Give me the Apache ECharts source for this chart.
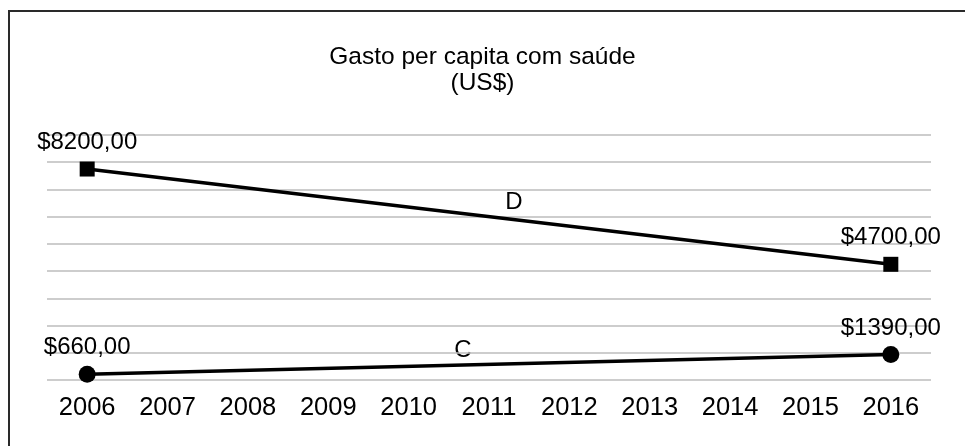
<!DOCTYPE html>
<html>
<head>
<meta charset="utf-8">
<script src="https://cdn.jsdelivr.net/npm/echarts@6/dist/echarts.min.js"></script>
<style>
  html, body { margin: 0; padding: 0; background: #fff; }
  #chart { width: 965px; height: 446px; }
</style>
</head>
<body>
<div id="chart"></div>
<script>
// dados
var anos = ['2006', '2007', '2008', '2009', '2010', '2011', '2012', '2013', '2014', '2015', '2016'];
var serieD = [8200, null, null, null, null, null, null, null, null, null, 4700];
var serieC = [660, null, null, null, null, null, null, null, null, null, 1390];
var gridLinhas = 9; // linhas de grade horizontais (9 intervalos)

var fonte = '"Liberation Sans", Arial, sans-serif';

function rotulo(p) {
    return '$' + p.value + ',00';
}

var myChart = echarts.init(document.getElementById('chart'));
var option = {
    animation: false,
    backgroundColor: '#fff',
    textStyle: { fontFamily: fonte },
    title: {
        text: 'Gasto per capita com saúde\n(US$)',
        left: 'center',
        top: 39,
        textStyle: { fontSize: 24.5, fontWeight: 'normal', color: '#000', lineHeight: 26, fontFamily: fonte }
    },
    grid: { left: 47, right: 34, top: 135, bottom: 66 },
    xAxis: {
        type: 'category',
        data: anos,
        boundaryGap: true,
        axisLine: { show: false },
        axisTick: { show: false },
        axisLabel: { color: '#000', fontSize: 25.5, margin: 15, fontFamily: fonte }
    },
    yAxis: [{
        type: 'value',
        min: 450,
        max: 9450,
        axisLine: { show: false },
        axisTick: { show: false },
        axisLabel: { show: false },
        splitLine: { show: false }
    }, {
        // eixo so para desenhar a grade
        type: 'value',
        min: 0,
        max: gridLinhas,
        interval: 1,
        axisLine: { show: false },
        axisTick: { show: false },
        axisLabel: { show: false },
        splitLine: { show: true, lineStyle: { color: '#bcbcbc', width: 1.5 } }
    }],
    series: [{
        name: 'D',
        type: 'line',
        yAxisIndex: 0,
        data: serieD,
        connectNulls: true,
        symbol: 'rect',
        symbolSize: 15,
        itemStyle: { color: '#000' },
        lineStyle: { color: '#000', width: 3.5 },
        label: { show: true, position: 'top', distance: 7, formatter: rotulo, color: '#000', fontSize: 24, fontFamily: fonte }
    }, {
        name: 'C',
        type: 'line',
        yAxisIndex: 0,
        data: serieC,
        connectNulls: true,
        symbol: 'circle',
        symbolSize: 17,
        itemStyle: { color: '#000' },
        lineStyle: { color: '#000', width: 3.5 },
        label: { show: true, position: 'top', distance: 6, formatter: rotulo, color: '#000', fontSize: 24, fontFamily: fonte }
    }],
    graphic: [{
        type: 'rect',
        shape: { x: 9, y: 11, width: 1000, height: 500 },
        style: { fill: null, stroke: '#2a2a2a', lineWidth: 2 },
        silent: true
    }, {
        type: 'text',
        x: 514, y: 202,
        style: { text: 'D', fill: '#000', font: '24px ' + fonte, align: 'center', verticalAlign: 'middle' }
    }, {
        type: 'text',
        x: 463, y: 350,
        style: { text: 'C', fill: '#000', font: '24px ' + fonte, align: 'center', verticalAlign: 'middle' }
    }]
};
myChart.setOption(option);
</script>
</body>
</html>
